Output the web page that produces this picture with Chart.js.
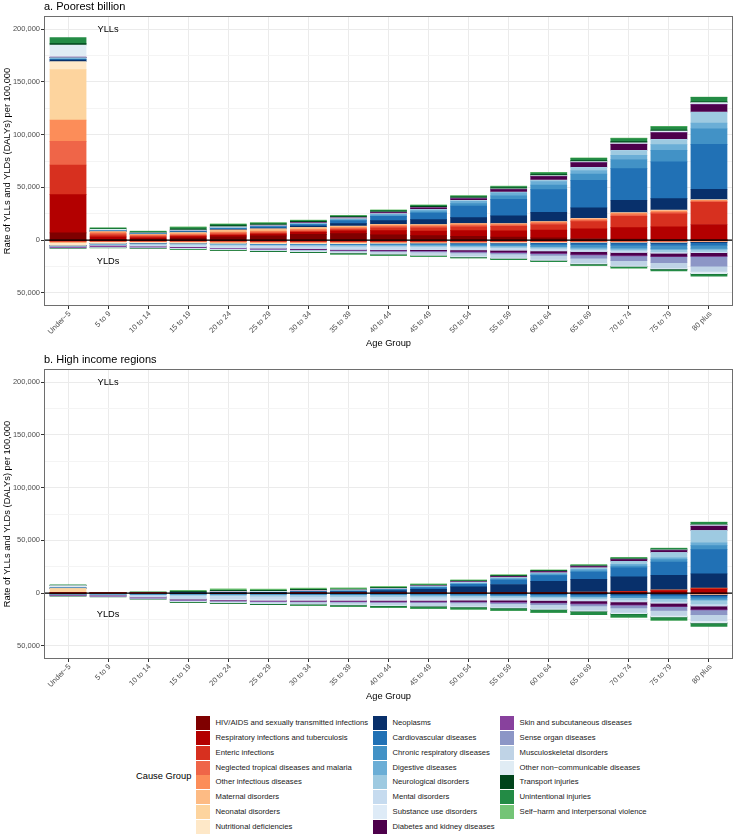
<!DOCTYPE html>
<html>
<head>
<meta charset="utf-8">
<title>YLLs and YLDs by age group</title>
<script src="https://cdn.jsdelivr.net/npm/chart.js@4.4.1/dist/chart.umd.min.js"></script>
<style>
  html, body { margin: 0; padding: 0; background: #fff; }
  #page { position: relative; width: 737px; height: 835px; overflow: hidden;
          font-family: "Liberation Sans", Arial, sans-serif; }
  .panel { position: absolute; left: 0; }
  #legend-title { position: absolute; left: 136px; top: 769px; font-size: 9.3px; line-height: 14px; color: #000; }
  .key { position: absolute; width: 14px; height: 14px; }
  .key-label { position: absolute; font-size: 7.7px; line-height: 14px; color: #1a1a1a; white-space: nowrap; }
</style>
</head>
<body>
<div id="page">
  <canvas id="chart-a" class="panel" width="737" height="352" style="top:0"></canvas>
  <canvas id="chart-b" class="panel" width="737" height="352" style="top:353px"></canvas>
  <div id="legend"><div id="legend-title">Cause Group</div></div>
</div>
<script>
// ── Categories ───────────────────────────────────────────
const AGES = [
  "Under\u22125", "5 to 9", "10 to 14", "15 to 19", "20 to 24", "25 to 29",
  "30 to 34", "35 to 39", "40 to 44", "45 to 49", "50 to 54", "55 to 59",
  "60 to 64", "65 to 69", "70 to 74", "75 to 79", "80 plus",
];

const CAUSES = [
  "HIV/AIDS and sexually transmitted infections",
  "Respiratory infections and tuberculosis",
  "Enteric infections",
  "Neglected tropical diseases and malaria",
  "Other infectious diseases",
  "Maternal disorders",
  "Neonatal disorders",
  "Nutritional deficiencies",
  "Neoplasms",
  "Cardiovascular diseases",
  "Chronic respiratory diseases",
  "Digestive diseases",
  "Neurological disorders",
  "Mental disorders",
  "Substance use disorders",
  "Diabetes and kidney diseases",
  "Skin and subcutaneous diseases",
  "Sense organ diseases",
  "Musculoskeletal disorders",
  "Other non\u2212communicable diseases",
  "Transport injuries",
  "Unintentional injuries",
  "Self\u2212harm and interpersonal violence",
];

const COLORS = [
  "#7f0000", "#b30000", "#d7301f", "#ef6548", "#fc8d59", "#fdbb84", "#fdd49e", "#fee8c8",
  "#08306b", "#2171b5", "#4292c6", "#6baed6", "#9ecae1", "#c6dbef", "#deebf7", "#4d004b",
  "#88419d", "#8c96c6", "#bfd3e6", "#e0ecf4", "#00441b", "#238b45", "#74c476",
];

// ── Values: rate per 100,000, one row per cause (same order as CAUSES) ──
// a. Poorest billion, YLLs
const POOR_YLL = [
  [6900, 700, 900, 1800, 3000, 4000, 5400, 6100, 5000, 4200, 3600, 2900, 2200, 1500, 900, 600, 300],
  [36300, 2300, 1200, 1400, 1600, 1700, 1900, 2600, 3900, 4300, 5300, 5800, 7200, 9200, 11000, 12000, 14500],
  [28000, 2000, 1100, 1000, 1000, 1000, 1100, 1200, 2700, 3000, 3700, 4300, 5400, 6800, 10700, 12300, 21000],
  [22400, 1500, 1100, 1100, 1200, 1100, 1100, 1200, 1500, 1500, 1400, 1300, 1300, 1300, 1400, 1400, 1000],
  [20100, 1300, 700, 700, 800, 800, 800, 900, 1100, 1200, 1300, 1100, 1150, 1300, 1500, 1500, 1000],
  [0, 0, 100, 900, 1800, 1900, 1500, 1000, 500, 200, 50, 0, 0, 0, 0, 0, 0],
  [47900, 0, 0, 0, 0, 0, 0, 0, 0, 0, 0, 0, 0, 0, 0, 0, 0],
  [7700, 300, 150, 150, 150, 150, 150, 150, 200, 250, 300, 300, 350, 400, 600, 600, 600],
  [1300, 300, 300, 500, 600, 800, 1200, 2400, 3500, 4800, 5700, 7200, 8800, 10100, 11700, 11000, 9800],
  [500, 150, 200, 500, 800, 1000, 1400, 2700, 4000, 6200, 11000, 15800, 21500, 26000, 30000, 34700, 42500],
  [400, 100, 80, 100, 150, 200, 300, 450, 700, 1100, 2200, 3300, 4300, 6000, 8600, 11000, 14800],
  [500, 150, 150, 250, 350, 450, 650, 1000, 1300, 1700, 2300, 2700, 3200, 3400, 4000, 5400, 5400],
  [1000, 200, 200, 250, 250, 250, 250, 300, 350, 400, 600, 650, 1200, 2700, 4400, 4700, 10300],
  [0, 0, 0, 20, 30, 30, 30, 30, 30, 30, 30, 30, 30, 30, 30, 30, 50],
  [0, 0, 0, 50, 80, 100, 120, 150, 200, 200, 200, 200, 200, 200, 200, 200, 200],
  [300, 100, 120, 200, 300, 350, 450, 650, 1000, 1400, 1500, 2200, 3300, 4300, 5700, 6300, 6900],
  [200, 50, 30, 30, 40, 40, 40, 50, 60, 60, 70, 80, 100, 150, 200, 250, 400],
  [0, 0, 0, 0, 0, 0, 0, 0, 0, 0, 0, 0, 0, 0, 0, 0, 0],
  [20, 20, 30, 50, 60, 60, 60, 70, 80, 90, 100, 120, 150, 150, 150, 150, 150],
  [11500, 900, 500, 450, 400, 350, 350, 400, 450, 500, 500, 600, 700, 900, 1200, 1200, 1400],
  [1200, 400, 400, 1000, 1200, 1000, 950, 900, 900, 900, 900, 950, 1000, 1000, 1000, 900, 800],
  [5700, 1000, 1000, 1300, 1000, 800, 750, 800, 800, 850, 900, 1300, 1600, 2100, 3000, 3200, 4300],
  [0, 30, 150, 900, 700, 500, 450, 450, 450, 450, 450, 450, 500, 450, 400, 350, 300],
];

// a. Poorest billion, YLDs (drawn below zero)
const POOR_YLD = [
  [100, 80, 80, 100, 250, 400, 500, 550, 550, 500, 450, 350, 250, 150, 80, 50, 30],
  [300, 250, 250, 250, 250, 250, 250, 250, 250, 250, 250, 250, 250, 250, 250, 250, 200],
  [500, 400, 400, 400, 400, 400, 400, 400, 400, 400, 400, 400, 400, 400, 400, 400, 300],
  [600, 550, 500, 450, 450, 500, 550, 550, 550, 550, 550, 500, 450, 400, 350, 350, 300],
  [400, 300, 300, 300, 300, 300, 300, 300, 300, 300, 300, 300, 300, 300, 300, 300, 200],
  [0, 0, 30, 300, 700, 750, 650, 500, 300, 150, 50, 0, 0, 0, 0, 0, 0],
  [600, 0, 0, 0, 0, 0, 0, 0, 0, 0, 0, 0, 0, 0, 0, 0, 0],
  [2500, 1500, 1200, 1000, 850, 800, 750, 800, 750, 750, 750, 750, 750, 800, 800, 900, 500],
  [20, 20, 20, 30, 40, 50, 70, 90, 120, 150, 200, 250, 300, 400, 500, 600, 700],
  [50, 60, 80, 100, 150, 200, 250, 350, 450, 600, 800, 1000, 1300, 1700, 2000, 2300, 2500],
  [300, 500, 400, 300, 300, 350, 450, 550, 700, 900, 1200, 1500, 1900, 2400, 2800, 3000, 3200],
  [80, 150, 150, 200, 250, 300, 400, 500, 550, 600, 700, 800, 900, 1000, 1000, 1000, 1000],
  [200, 300, 600, 800, 900, 1000, 1100, 1150, 1150, 1100, 1100, 1100, 1100, 1200, 1400, 1700, 1800],
  [150, 900, 1500, 1900, 2000, 2200, 2300, 2550, 2700, 2600, 2400, 2200, 2000, 1800, 1500, 1300, 1000],
  [0, 0, 30, 150, 250, 250, 250, 250, 250, 250, 250, 250, 250, 200, 200, 150, 100],
  [30, 60, 80, 100, 150, 200, 300, 400, 600, 850, 1200, 1600, 2000, 2400, 2700, 2900, 3100],
  [1000, 1100, 900, 700, 600, 600, 600, 600, 600, 600, 600, 600, 600, 600, 600, 600, 600],
  [50, 60, 80, 100, 150, 200, 250, 350, 450, 600, 900, 1300, 1850, 3200, 4500, 5700, 9200],
  [20, 100, 200, 400, 550, 750, 900, 1300, 1900, 2400, 2900, 3300, 3700, 4400, 4600, 4800, 5000],
  [500, 550, 500, 450, 500, 600, 700, 800, 800, 850, 900, 900, 1000, 1000, 1000, 1100, 2000],
  [50, 100, 150, 200, 250, 250, 250, 250, 250, 250, 250, 250, 250, 300, 300, 300, 300],
  [350, 500, 500, 600, 500, 600, 700, 750, 800, 800, 800, 850, 900, 1000, 1200, 1600, 2200],
  [0, 0, 10, 30, 40, 50, 60, 60, 60, 50, 50, 50, 40, 30, 20, 0, 0],
];

// b. High income regions, YLLs
const HIGH_YLL = [
  [0, 0, 0, 0, 0, 0, 0, 0, 0, 50, 50, 30, 20, 0, 0, 0, 0],
  [300, 50, 50, 0, 0, 0, 50, 50, 100, 150, 250, 350, 500, 700, 1200, 2200, 3800],
  [50, 10, 0, 0, 0, 0, 0, 0, 0, 0, 20, 30, 50, 80, 150, 300, 400],
  [0, 0, 0, 0, 0, 0, 0, 0, 0, 0, 0, 0, 0, 0, 0, 0, 0],
  [200, 30, 30, 0, 0, 0, 0, 0, 0, 50, 100, 150, 200, 250, 400, 600, 600],
  [0, 0, 0, 0, 0, 0, 0, 0, 0, 0, 0, 0, 0, 0, 0, 0, 0],
  [3800, 0, 0, 0, 0, 0, 0, 0, 0, 0, 0, 0, 0, 0, 0, 0, 0],
  [50, 0, 0, 0, 0, 0, 0, 0, 0, 0, 0, 0, 0, 0, 0, 0, 0],
  [150, 150, 170, 250, 350, 450, 800, 1100, 2000, 3300, 5400, 7600, 10300, 12000, 13600, 13800, 13500],
  [100, 30, 50, 100, 200, 250, 500, 700, 1000, 1500, 2500, 4100, 5400, 6900, 8500, 12500, 23000],
  [50, 20, 20, 0, 0, 0, 0, 0, 100, 200, 300, 600, 800, 1100, 1800, 2300, 3800],
  [50, 20, 20, 0, 50, 100, 250, 300, 450, 700, 900, 1100, 1200, 1500, 1600, 1700, 2500],
  [150, 80, 80, 100, 100, 100, 100, 100, 100, 150, 250, 400, 600, 1200, 2800, 4900, 11600],
  [0, 0, 0, 0, 0, 0, 0, 0, 0, 0, 0, 0, 0, 0, 0, 0, 0],
  [0, 0, 20, 200, 600, 600, 700, 600, 500, 400, 300, 250, 200, 150, 100, 80, 50],
  [50, 10, 20, 0, 50, 0, 100, 100, 150, 300, 600, 1000, 1100, 1300, 1600, 1900, 4100],
  [0, 0, 0, 0, 0, 0, 0, 0, 0, 0, 50, 50, 50, 50, 80, 100, 250],
  [0, 0, 0, 0, 0, 0, 0, 0, 0, 0, 0, 0, 0, 0, 0, 0, 0],
  [0, 0, 0, 0, 0, 0, 0, 0, 0, 50, 50, 50, 50, 50, 100, 150, 300],
  [2200, 150, 150, 150, 150, 100, 100, 100, 100, 150, 200, 250, 250, 300, 350, 400, 800],
  [100, 100, 170, 700, 900, 700, 600, 500, 450, 450, 400, 400, 400, 400, 450, 450, 400],
  [600, 130, 130, 400, 500, 500, 500, 500, 450, 500, 500, 500, 500, 600, 800, 1000, 1900],
  [0, 20, 150, 600, 1100, 1000, 1000, 1000, 900, 800, 700, 600, 500, 400, 400, 350, 250],
];

// b. High income regions, YLDs (drawn below zero)
const HIGH_YLD = [
  [0, 0, 0, 10, 30, 40, 50, 50, 50, 50, 50, 40, 30, 20, 10, 0, 0],
  [80, 50, 40, 30, 30, 30, 30, 30, 30, 30, 30, 40, 50, 60, 70, 100, 300],
  [50, 30, 30, 30, 30, 30, 30, 30, 30, 30, 30, 30, 40, 50, 60, 80, 200],
  [0, 0, 0, 0, 0, 0, 0, 0, 0, 0, 0, 0, 0, 0, 0, 0, 0],
  [100, 60, 50, 50, 60, 60, 60, 60, 60, 60, 60, 70, 80, 100, 130, 170, 400],
  [0, 0, 0, 30, 100, 150, 150, 100, 40, 0, 0, 0, 0, 0, 0, 0, 0],
  [350, 0, 0, 0, 0, 0, 0, 0, 0, 0, 0, 0, 0, 0, 0, 0, 0],
  [250, 200, 200, 200, 200, 200, 200, 200, 200, 200, 200, 200, 200, 220, 250, 270, 300],
  [10, 10, 10, 20, 30, 40, 70, 100, 150, 200, 250, 300, 400, 500, 600, 700, 900],
  [30, 30, 40, 50, 60, 80, 100, 150, 200, 300, 400, 500, 700, 900, 1100, 1400, 1800],
  [500, 700, 800, 700, 600, 600, 600, 700, 800, 900, 1000, 1200, 1400, 1600, 1800, 2000, 2200],
  [30, 40, 50, 70, 100, 120, 150, 180, 200, 220, 250, 280, 300, 300, 350, 450, 700],
  [100, 200, 600, 1100, 1300, 1500, 1600, 1700, 1700, 1600, 1500, 1400, 1400, 1600, 2000, 2600, 3500],
  [100, 700, 1800, 2900, 2900, 2800, 2800, 2700, 2600, 2500, 2300, 2100, 1900, 1700, 1600, 1600, 1800],
  [0, 0, 50, 600, 1100, 1200, 1100, 1000, 900, 800, 700, 600, 500, 400, 300, 200, 100],
  [20, 30, 50, 100, 150, 250, 350, 450, 600, 800, 1100, 1400, 1800, 2100, 2400, 2700, 3000],
  [700, 800, 900, 900, 800, 750, 700, 700, 700, 650, 600, 600, 600, 600, 650, 700, 800],
  [80, 100, 100, 150, 200, 250, 300, 400, 550, 700, 900, 1200, 1600, 2100, 2700, 3500, 4500],
  [20, 50, 300, 800, 1000, 1400, 1700, 2000, 2400, 2800, 3000, 3300, 3600, 3900, 4200, 4600, 5600],
  [300, 400, 450, 400, 400, 450, 500, 550, 600, 650, 700, 800, 900, 1000, 1200, 1400, 2200],
  [10, 0, 30, 150, 200, 250, 250, 250, 250, 250, 250, 250, 250, 250, 250, 200, 100],
  [80, 100, 200, 500, 500, 700, 900, 1200, 1500, 1700, 1850, 2100, 2500, 3000, 3200, 3000, 3100],
  [0, 0, 0, 10, 10, 10, 10, 10, 10, 10, 10, 10, 10, 10, 10, 10, 0],
];

// ── Axis ticks and in-panel labels ───────────────────────
const Y_TICKS = [-50000, -25000, 0, 25000, 50000, 75000, 100000, 125000, 150000, 175000, 200000];
const Y_MIN = -62500;
const Y_MAX = 212500;
const NOTES = [
  { text: "YLLs", x: 1, y: 200000 },
  { text: "YLDs", x: 1, y: -20000 },
];

// ── Drawing helpers ──────────────────────────────────────
const FONT = "'Liberation Sans', Arial, sans-serif";
Chart.defaults.font.family = FONT;

const isMajor = v => v % 50000 === 0;

const panelDecor = {
  id: "panelDecor",
  afterDatasetsDraw(chart) {
    const { ctx, chartArea: a, scales: { x, y } } = chart;
    ctx.save();
    // zero line over the bars
    const y0 = y.getPixelForValue(0);
    ctx.strokeStyle = "#000";
    ctx.lineWidth = 1.1;
    ctx.beginPath();
    ctx.moveTo(a.left, y0);
    ctx.lineTo(a.right, y0);
    ctx.stroke();
    // panel border
    ctx.strokeStyle = "#6e6e6e";
    ctx.lineWidth = 1;
    ctx.strokeRect(a.left + 0.5, a.top + 0.5, a.width - 1, a.height - 1);
    // YLLs / YLDs
    ctx.fillStyle = "#000";
    ctx.font = `9.3px ${FONT}`;
    ctx.textAlign = "center";
    ctx.textBaseline = "middle";
    NOTES.forEach(n => ctx.fillText(n.text, x.getPixelForValue(n.x), y.getPixelForValue(n.y)));
    ctx.restore();
  },
  afterDraw(chart, args, opts) {
    const { ctx, chartArea: a, scales: { x } } = chart;
    ctx.save();
    // panel title
    ctx.fillStyle = "#000";
    ctx.font = `11px ${FONT}`;
    ctx.textAlign = "left";
    ctx.textBaseline = "alphabetic";
    ctx.fillText(opts.title, a.left, 9.5);
    // x tick labels at 45°
    ctx.fillStyle = "#4d4d4d";
    ctx.font = `7.5px ${FONT}`;
    ctx.textAlign = "right";
    ctx.textBaseline = "top";
    AGES.forEach((lbl, i) => {
      ctx.save();
      ctx.translate(x.getPixelForValue(i) - 1, a.bottom + 4);
      ctx.rotate(-Math.PI / 4);
      ctx.fillText(lbl, 0, 0);
      ctx.restore();
    });
    // axis titles
    ctx.fillStyle = "#000";
    ctx.font = `9.3px ${FONT}`;
    ctx.textAlign = "center";
    ctx.textBaseline = "middle";
    ctx.fillText("Age Group", (a.left + a.right) / 2, 343);
    ctx.translate(7, (a.top + a.bottom) / 2);
    ctx.rotate(-Math.PI / 2);
    ctx.fillText("Rate of YLLs and YLDs (DALYs) per 100,000", 0, 0);
    ctx.restore();
  },
};

// ── One panel ────────────────────────────────────────────
function makePanel(canvas, title, yll, yld) {
  const up = CAUSES.map((c, k) => ({
    label: c,
    data: yll[k].map((v, i) => ({ x: i, y: v ? v : null })),
    backgroundColor: COLORS[k],
  }));
  const down = CAUSES.map((c, k) => ({
    label: c,
    data: yld[k].map((v, i) => ({ x: i, y: v ? -v : null })),
    backgroundColor: COLORS[k],
  }));

  return new Chart(canvas, {
    type: "bar",
    data: { datasets: [...up, ...down] },
    options: {
      responsive: false,
      animation: false,
      events: [],
      layout: { padding: { top: 16, right: 4, bottom: 0, left: 0 } },
      datasets: { bar: { barPercentage: 0.9, categoryPercentage: 1, borderWidth: 0, inflateAmount: 0.35 } },
      plugins: {
        legend: { display: false },
        tooltip: { enabled: false },
        panelDecor: { title },
      },
      scales: {
        x: {
          type: "linear",
          stacked: true,
          offset: false,
          bounds: "data",
          min: -0.6,
          max: AGES.length - 0.4,
          afterBuildTicks: s => { s.ticks = AGES.map((_, i) => ({ value: i })); },
          afterFit: s => { s.height = 46; },
          ticks: { display: false },
          grid: { offset: false, color: "#ebebeb", lineWidth: 1, tickLength: 3, tickColor: "#333" },
          border: { display: false },
        },
        y: {
          stacked: true,
          bounds: "data",
          min: Y_MIN,
          max: Y_MAX,
          afterBuildTicks: s => { s.ticks = Y_TICKS.map(v => ({ value: v })); },
          afterFit: s => { s.width = 44; },
          ticks: {
            color: "#4d4d4d",
            font: { size: 7.5 },
            padding: 1,
            callback: v => (isMajor(v) ? Math.abs(v).toLocaleString("en-US") : ""),
          },
          grid: {
            color: c => (c.tick && !isMajor(c.tick.value) ? "#f4f4f4" : "#ebebeb"),
            tickLength: 3,
            tickColor: c => (c.tick && !isMajor(c.tick.value) ? "rgba(0,0,0,0)" : "#333"),
          },
          border: { display: false },
        },
      },
    },
    plugins: [panelDecor],
  });
}

makePanel(document.getElementById("chart-a"), "a. Poorest billion", POOR_YLL, POOR_YLD);
makePanel(document.getElementById("chart-b"), "b. High income regions", HIGH_YLL, HIGH_YLD);

// ── Legend (3 columns × 8 rows) ──────────────────────────
const legend = document.getElementById("legend");
const KEY_LEFT = [196, 373, 500];
CAUSES.forEach((c, k) => {
  const col = Math.floor(k / 8);
  const row = k % 8;
  const top = 716.3 + row * 14.77;
  const key = document.createElement("div");
  key.className = "key";
  key.style.left = `${KEY_LEFT[col]}px`;
  key.style.top = `${top}px`;
  key.style.background = COLORS[k];
  legend.appendChild(key);
  const lbl = document.createElement("div");
  lbl.className = "key-label";
  lbl.style.left = `${KEY_LEFT[col] + 19.5}px`;
  lbl.style.top = `${top}px`;
  lbl.textContent = c;
  legend.appendChild(lbl);
});
</script>
</body>
</html>
